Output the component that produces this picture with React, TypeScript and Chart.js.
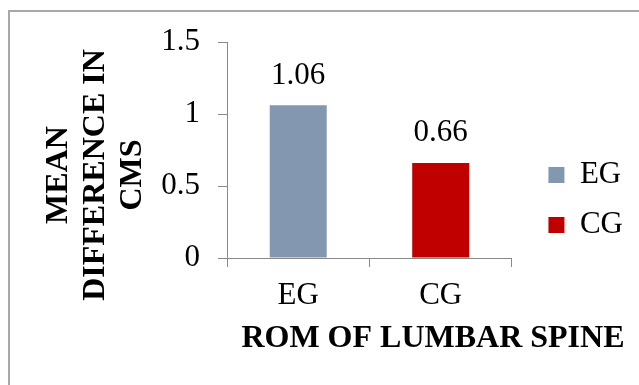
import React, { useEffect, useRef } from "react";
import { Chart, registerables } from "chart.js";

Chart.register(...registerables);

// Chart data
const categories = ["EG", "CG"];
const meanDifference = [1.06, 0.66];
const barColors = ["#8497B0", "#C00000"];
const yTicks = [0, 0.5, 1, 1.5];
const xTitle = "ROM OF LUMBAR SPINE";
const yTitleLines = ["MEAN", "DIFFERENCE IN", "CMS"];

const SERIF = "'Times New Roman', 'Liberation Serif', serif";
const AXIS_GRAY = "#898989";
const TEXT_SIZE = 31;
const TITLE_SIZE = 32;

// Writes each bar's value above it
const valueLabels = {
  id: "valueLabels",
  afterDatasetsDraw(chart: any) {
    const { ctx } = chart;
    const meta = chart.getDatasetMeta(0);
    const values = chart.data.datasets[0].data;
    ctx.save();
    ctx.font = `${TEXT_SIZE}px ${SERIF}`;
    ctx.fillStyle = "#000";
    ctx.textAlign = "center";
    ctx.textBaseline = "middle";
    meta.data.forEach((bar: any, i: number) => {
      ctx.fillText(String(values[i]), bar.x, bar.y - 30);
    });
    ctx.restore();
  },
};

// Bold axis titles, set off from the plot area the way office charts place them
const axisTitles = {
  id: "axisTitles",
  afterDraw(chart: any) {
    const { ctx, chartArea } = chart;
    ctx.save();
    ctx.font = `bold ${TITLE_SIZE}px ${SERIF}`;
    ctx.fillStyle = "#000";
    ctx.textAlign = "center";
    ctx.textBaseline = "middle";

    const midX = (chartArea.left + chartArea.right) / 2;
    ctx.fillText(xTitle, midX + 63.5, chartArea.bottom + 81);

    ctx.translate(chartArea.left - 168.5, chartArea.bottom - 83);
    ctx.rotate(-Math.PI / 2);
    yTitleLines.forEach((line, i) => {
      ctx.fillText(line, 0, i * 37);
    });
    ctx.restore();
  },
};

export default function App() {
  const canvasRef = useRef<HTMLCanvasElement | null>(null);

  useEffect(() => {
    const canvas = canvasRef.current;
    if (!canvas) return;

    const axisGrid = {
      display: true,
      drawOnChartArea: false,
      drawTicks: true,
      tickLength: 9,
      color: AXIS_GRAY,
      lineWidth: 1,
    };

    const chart = new Chart(canvas, {
      type: "bar",
      data: {
        labels: categories,
        datasets: [
          {
            label: "Mean difference",
            data: meanDifference,
            backgroundColor: barColors,
            borderWidth: 0,
            categoryPercentage: 1,
            barPercentage: 0.4,
          },
        ],
      },
      options: {
        responsive: false,
        animation: false,
        devicePixelRatio: 1,
        layout: { padding: { top: 42, bottom: 27, left: 0, right: 6 } },
        plugins: {
          tooltip: { enabled: false },
          title: { display: false },
          legend: {
            position: "right",
            labels: {
              boxWidth: 16,
              boxHeight: 16,
              padding: 19,
              color: "#000",
              font: { family: SERIF, size: TEXT_SIZE },
              generateLabels: (c: any) =>
                c.data.labels.map((label: string, i: number) => ({
                  text: label,
                  fillStyle: barColors[i],
                  strokeStyle: barColors[i],
                  lineWidth: 0,
                  hidden: false,
                  index: i,
                  datasetIndex: 0,
                })),
            },
          },
        },
        scales: {
          x: {
            type: "category",
            offset: true,
            grid: { ...axisGrid, offset: true },
            border: { display: true, color: AXIS_GRAY, width: 1 },
            ticks: {
              color: "#000",
              padding: 10,
              font: { family: SERIF, size: TEXT_SIZE },
            },
            afterFit(scale: any) {
              scale.height = 100;
            },
          },
          y: {
            type: "linear",
            min: yTicks[0],
            max: yTicks[yTicks.length - 1],
            grid: axisGrid,
            border: { display: true, color: AXIS_GRAY, width: 1 },
            ticks: {
              stepSize: yTicks[1] - yTicks[0],
              color: "#000",
              padding: 18,
              font: { family: SERIF, size: TEXT_SIZE },
              callback: (v: any) => String(v),
            },
            afterFit(scale: any) {
              scale.width = 227;
            },
          },
          // empty right-hand axis that keeps the legend clear of the plot
          gap: {
            type: "linear",
            position: "right",
            display: true,
            ticks: { display: false },
            grid: { display: false, drawTicks: false },
            border: { display: false },
            afterFit(scale: any) {
              scale.width = 17.5;
            },
          },
        },
      },
      plugins: [valueLabels, axisTitles],
    });

    return () => chart.destroy();
  }, []);

  return (
    <div
      style={{
        position: "fixed",
        left: 0,
        top: 0,
        width: 639,
        height: 385,
        overflow: "hidden",
        background: "#fff",
      }}
    >
      <div
        style={{
          position: "absolute",
          left: 8,
          top: 10,
          width: 700,
          height: 500,
          borderTop: "2px solid #a8a8a8",
          borderLeft: "2px solid #a8a8a8",
          boxSizing: "border-box",
        }}
      />
      <canvas
        ref={canvasRef}
        width={639}
        height={385}
        style={{ position: "absolute", left: 0, top: 0 }}
      />
    </div>
  );
}
